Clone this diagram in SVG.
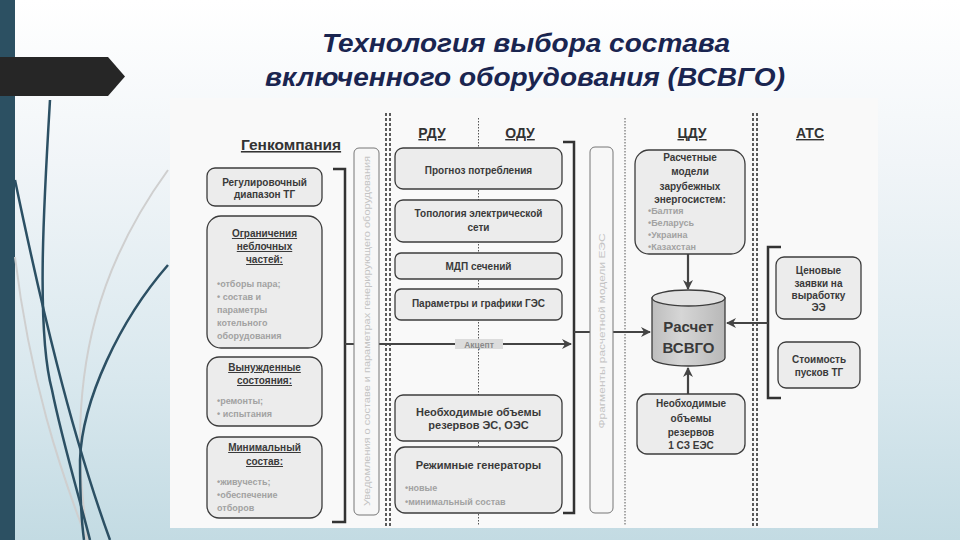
<svg xmlns="http://www.w3.org/2000/svg" width="960" height="540" viewBox="0 0 960 540">
<defs>
<linearGradient id="bg" x1="0" y1="0" x2="0" y2="1">
<stop offset="0" stop-color="#ffffff"/>
<stop offset="0.3" stop-color="#f1f5f8"/>
<stop offset="0.7" stop-color="#d9e8ee"/>
<stop offset="1" stop-color="#c3dbe3"/>
</linearGradient>
<linearGradient id="cyl" x1="0" y1="0" x2="1" y2="0">
<stop offset="0" stop-color="#bdbdbd"/>
<stop offset="0.4" stop-color="#d6d6d6"/>
<stop offset="1" stop-color="#b8b8b8"/>
</linearGradient>
<marker id="ah" viewBox="0 0 10 10" refX="9" refY="5" markerWidth="10" markerHeight="10" markerUnits="userSpaceOnUse" orient="auto">
<path d="M0,0 L10,5 L0,10 L3,5 Z" fill="#444"/>
</marker>
<style>
.box{fill:#ececec;stroke:#3c3c3c;stroke-width:1.3}
.t{font-family:"Liberation Sans",Arial,sans-serif;font-weight:bold;font-size:10px;fill:#3a3a3a;text-anchor:middle}
.t11{font-size:11px}
.t15{font-size:15px}
.u{text-decoration:underline}
.bl{font-family:"Liberation Sans",Arial,sans-serif;font-weight:bold;font-size:9px;fill:#a2a2a2}
.hd{font-family:"Liberation Sans",Arial,sans-serif;font-weight:bold;font-size:14px;fill:#333;text-anchor:middle;text-decoration:underline}
.hd15{font-size:15.5px}
.br{fill:none;stroke:#333;stroke-width:2.5}
.ar{fill:none;stroke:#444;stroke-width:2.2;marker-end:url(#ah)}
.sepT{stroke:#333;stroke-width:1.6;stroke-dasharray:3 2}
.sepD{stroke:#555;stroke-width:1;stroke-dasharray:1.5 1.5}
.bar{fill:#f7f7f7;stroke:#777;stroke-width:1}
.vt{font-family:"Liberation Sans",Arial,sans-serif;font-size:9px;fill:#c4c4c4;text-anchor:middle}
.deco{fill:none;stroke:#2c5064;stroke-width:2.5}
.decoL{fill:none;stroke:#cfcfcf;stroke-width:2}
</style>
</defs>

<rect x="0" y="0" width="960" height="540" fill="url(#bg)"/>
<rect x="0" y="0" width="15" height="540" fill="#2c5062"/>
<g id="decor">
<path class="decoL" d="M168,170 C110,250 60,360 88,540"/>
<path class="decoL" d="M15,257 C30,380 60,470 87,540"/>
<path class="deco" d="M50,100 C44,200 36,330 52,390 C62,440 80,500 90,540"/>
<path class="deco" d="M15,180 C40,300 70,430 110,540"/>
<path class="deco" d="M168,265 C120,320 82,400 80,460 C80,500 82,525 84,540"/>
</g>
<polygon points="0,57 108,57 125,76.5 108,96 0,96" fill="#262626"/>

<g id="title" font-family="'Liberation Sans',Arial,sans-serif" font-style="italic" font-weight="bold" font-size="26" fill="#1a2550" text-anchor="middle">
<text x="526" y="52" textLength="408" lengthAdjust="spacingAndGlyphs">Технология выбора состава</text>
<text x="525" y="86" textLength="520" lengthAdjust="spacingAndGlyphs">включенного оборудования (ВСВГО)</text>
</g>

<rect x="170" y="98" width="708" height="430" fill="#f9f9f9"/>

<g id="separators">
<line class="sepT" x1="386" y1="113" x2="386" y2="526"/>
<line class="sepT" x1="390" y1="113" x2="390" y2="526"/>
<line class="sepD" x1="478.5" y1="118" x2="478.5" y2="526"/>
<line class="sepD" x1="625" y1="118" x2="625" y2="526"/>
<line class="sepT" x1="753" y1="113" x2="753" y2="526"/>
<line class="sepT" x1="757" y1="113" x2="757" y2="526"/>
</g>

<g id="headers">
<text class="hd hd15" x="291" y="150">Генкомпания</text>
<text class="hd" x="432" y="138">РДУ</text>
<text class="hd" x="520" y="138">ОДУ</text>
<text class="hd" x="692" y="138">ЦДУ</text>
<text class="hd" x="810" y="138">АТС</text>
</g>

<g id="connectors">
<path class="br" d="M333,169 H345 V522 H332"/>
<path class="br" d="M563,142 H574 V513 H563"/>
<path class="br" d="M781,247 H768 V398 H781"/>
<path class="ar" d="M345,344 H571"/>
<rect x="455" y="339" width="48" height="10" fill="#dcdcdc"/>
<text x="479" y="347.5" font-family="'Liberation Sans',Arial,sans-serif" font-weight="bold" font-size="8.5" fill="#8a8a8a" text-anchor="middle">Акцепт</text>
<path class="ar" d="M574,332 H650"/>
<path class="ar" d="M768,323 H727"/>
<path class="ar" d="M688,254 V289"/>
<path class="ar" d="M688,394 V368"/>
</g>

<g id="bar-notify">
<rect class="bar" x="354" y="148" width="25" height="367" rx="5"/>
<text class="vt" transform="translate(369.5,331) rotate(-90)" textLength="350" lengthAdjust="spacingAndGlyphs">Уведомления о составе и параметрах генерирующего оборудования</text>
</g>
<g id="bar-fragments">
<rect class="bar" x="590" y="147" width="23" height="366" rx="5"/>
<text class="vt" transform="translate(605,331) rotate(-90)" textLength="195" lengthAdjust="spacingAndGlyphs">Фрагменты расчетной модели ЕЭС</text>
</g>

<g id="reg-range">
<rect class="box" x="207" y="168" width="115" height="38" rx="8"/>
<text class="t" x="264.5" y="185.5">Регулировочный</text>
<text class="t" x="264.5" y="198">диапазон ТГ</text>
</g>
<g id="limits">
<rect class="box" x="207" y="216" width="115" height="132" rx="14"/>
<text class="t u" x="264.5" y="237">Ограничения</text>
<text class="t u" x="264.5" y="250">неблочных</text>
<text class="t u" x="264.5" y="263">частей:</text>
<text class="bl" x="217" y="287">•отборы пара;</text>
<text class="bl" x="217" y="300">• состав и</text>
<text class="bl" x="217" y="313">параметры</text>
<text class="bl" x="217" y="326">котельного</text>
<text class="bl" x="217" y="339">оборудования</text>
</g>
<g id="forced">
<rect class="box" x="207" y="357" width="115" height="69" rx="12"/>
<text class="t u" x="264.5" y="371">Вынужденные</text>
<text class="t u" x="264.5" y="384">состояния:</text>
<text class="bl" x="217" y="404">•ремонты;</text>
<text class="bl" x="217" y="417">• испытания</text>
</g>
<g id="minimal">
<rect class="box" x="207" y="437" width="115" height="81" rx="12"/>
<text class="t u" x="264.5" y="451">Минимальный</text>
<text class="t u" x="264.5" y="465">состав:</text>
<text class="bl" x="217" y="485">•живучесть;</text>
<text class="bl" x="217" y="498">•обеспечение</text>
<text class="bl" x="217" y="511">отборов</text>
</g>

<g id="forecast">
<rect class="box" x="395" y="148" width="167" height="41" rx="8"/>
<text class="t" x="478.5" y="174">Прогноз потребления</text>
</g>
<g id="topology">
<rect class="box" x="395" y="200" width="167" height="42" rx="8"/>
<text class="t" x="478.5" y="217">Топология электрической</text>
<text class="t" x="478.5" y="231">сети</text>
</g>
<g id="mdp">
<rect class="box" x="395" y="253" width="167" height="26" rx="6"/>
<text class="t" x="478.5" y="269.5">МДП сечений</text>
</g>
<g id="ges">
<rect class="box" x="395" y="289" width="167" height="31" rx="6"/>
<text class="t" x="478.5" y="306.5">Параметры и графики ГЭС</text>
</g>
<g id="reserves-es">
<rect class="box" x="395" y="395" width="167" height="46" rx="8"/>
<text class="t t11" x="478.5" y="416">Необходимые объемы</text>
<text class="t t11" x="478.5" y="429">резервов ЭС, ОЭС</text>
</g>
<g id="regime-gen">
<rect class="box" x="395" y="447" width="167" height="66" rx="10"/>
<text class="t t11" x="478.5" y="469">Режимные генераторы</text>
<text class="bl" x="405" y="491">•новые</text>
<text class="bl" x="405" y="505">•минимальный состав</text>
</g>

<g id="foreign-models">
<rect class="box" x="635" y="150" width="110" height="104" rx="14"/>
<text class="t" x="690" y="161">Расчетные</text>
<text class="t" x="690" y="175">модели</text>
<text class="t" x="690" y="190">зарубежных</text>
<text class="t" x="690" y="203">энергосистем:</text>
<text class="bl" x="648" y="214">•Балтия</text>
<text class="bl" x="648" y="226">•Беларусь</text>
<text class="bl" x="648" y="238">•Украина</text>
<text class="bl" x="648" y="250">•Казахстан</text>
</g>
<g id="calc-vsvgo">
<path d="M652,298 V358 A36.5,8 0 0 0 725,358 V298 Z" fill="url(#cyl)" stroke="#3c3c3c" stroke-width="1.3"/>
<ellipse cx="688.5" cy="298" rx="36.5" ry="8" fill="#e2e2e2" stroke="#3c3c3c" stroke-width="1.3"/>
<text class="t t15" x="688.5" y="332">Расчет</text>
<text class="t t15" x="688.5" y="353">ВСВГО</text>
</g>
<g id="reserves-sz">
<rect class="box" x="637" y="394" width="108" height="60" rx="10"/>
<text class="t" x="691" y="407">Необходимые</text>
<text class="t" x="691" y="422">объемы</text>
<text class="t" x="691" y="436">резервов</text>
<text class="t" x="691" y="449">1 СЗ ЕЭС</text>
</g>

<g id="price-bids">
<rect class="box" x="776" y="257" width="85" height="62" rx="8"/>
<text class="t" x="818.5" y="274">Ценовые</text>
<text class="t" x="818.5" y="287">заявки на</text>
<text class="t" x="818.5" y="299">выработку</text>
<text class="t" x="818.5" y="311">ЭЭ</text>
</g>
<g id="start-cost">
<rect class="box" x="778" y="342" width="82" height="46" rx="8"/>
<text class="t" x="819" y="363">Стоимость</text>
<text class="t" x="819" y="376">пусков ТГ</text>
</g>
</svg>
